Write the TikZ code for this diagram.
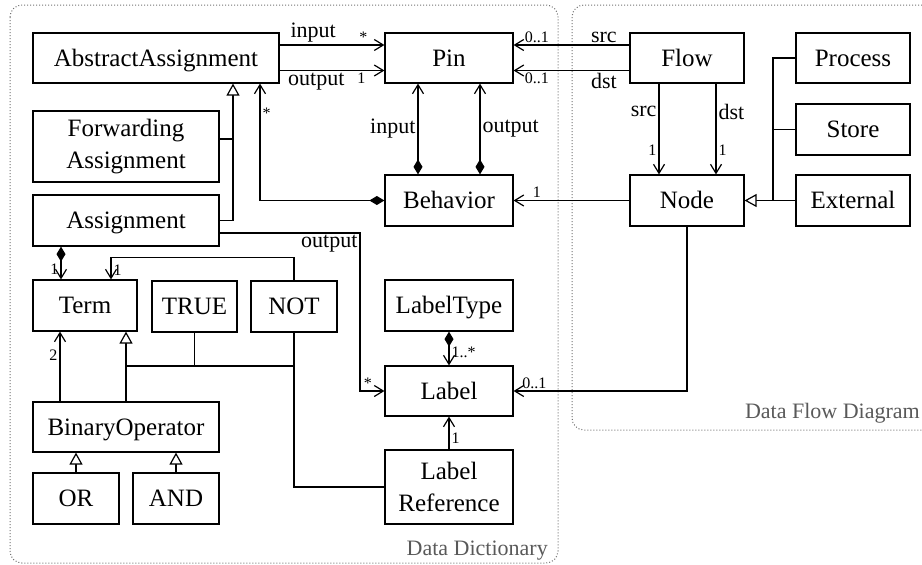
\documentclass[tikz,border=0pt]{standalone}
\usepackage{fontspec}
\setmainfont{Liberation Serif}
\usetikzlibrary{arrows.meta}
\begin{document}
\begin{tikzpicture}[x=1pt,y=-1pt,
  cls/.style={draw, line width=1.2pt, fill=white, inner sep=0pt, align=center, font=\fontsize{25}{31.7}\selectfont},
  one/.style={cls, text height=18pt, text depth=2pt},
  ln/.style={line width=1.2pt},
  assoc/.style={ln, -{Straight Barb[length=9pt,width=11pt]}},
  comp/.style={ln, {Diamond[length=15pt,width=9pt]}-{Straight Barb[length=9pt,width=11pt]}},
  gen/.style={ln, -{Triangle[open,fill=white,length=12pt,width=13pt]}},
  role/.style={font=\fontsize{22}{24}\selectfont, inner sep=2pt},
  mult/.style={font=\fontsize{16}{17}\selectfont, inner sep=2pt},
  frame/.style={draw=black!55, dotted, line width=1pt, rounded corners=12pt},
  framelbl/.style={font=\fontsize{22}{24}\selectfont, text=black!65, inner sep=0pt}
]
\useasboundingbox (0,0) rectangle (922,565);
\draw[frame] (10,5) rectangle (558,563);
\draw[frame] (572,5) rectangle (945,430);
\node[framelbl, anchor=base east] (ddl) at (548,555) {Data Dictionary};
\node[framelbl, anchor=base east] (dfdl) at (920,418) {Data Flow Diagram};

% classes
\node[one, minimum width=246pt, minimum height=50pt] (AA) at (156,58) {AbstractAssignment};
\node[one, minimum width=128pt, minimum height=50pt] (Pin) at (449,58) {Pin};
\node[one, minimum width=114pt, minimum height=50pt] (Flow) at (687,58) {Flow};
\node[one, minimum width=114pt, minimum height=50pt] (Process) at (853,58) {Process};
\node[one, minimum width=114pt, minimum height=51pt] (Store) at (853,129.5) {Store};
\node[one, minimum width=114pt, minimum height=51pt] (External) at (853,200.5) {External};
\node[one, minimum width=114pt, minimum height=51pt] (Node) at (687,200.5) {Node};
\node[one, minimum width=128pt, minimum height=51pt] (Behavior) at (449,200.5) {Behavior};
\node[cls, minimum width=186pt, minimum height=71pt] (FA) at (126,146.5) {Forwarding\\Assignment};
\node[one, minimum width=186pt, minimum height=51pt] (Asg) at (126,220.5) {Assignment};
\node[one, minimum width=104pt, minimum height=51pt] (Term) at (85,305.5) {Term};
\node[one, minimum width=85pt, minimum height=51pt] (TRUE) at (194.5,306.5) {TRUE};
\node[one, minimum width=86pt, minimum height=51pt] (NOT) at (294,306.5) {NOT};
\node[one, minimum width=128pt, minimum height=51pt] (LabelType) at (449,305.5) {LabelType};
\node[one, minimum width=128pt, minimum height=50pt] (Label) at (449,391) {Label};
\node[cls, minimum width=128pt, minimum height=74pt] (LabelRef) at (449,487) {Label\\Reference};
\node[one, minimum width=186pt, minimum height=50pt] (BO) at (126,427) {BinaryOperator};
\node[one, minimum width=86pt, minimum height=51pt] (OR) at (76,498.5) {OR};
\node[one, minimum width=86pt, minimum height=51pt] (AND) at (176,498.5) {AND};

% associations
\draw[assoc] ([yshift=13pt]AA.east) -- node[role,pos=0.32,above]{input} node[mult,pos=0.8,above]{*} ([yshift=13pt]Pin.west);
\draw[assoc] ([yshift=-12.5pt]AA.east) -- node[role,pos=0.35,below]{output} node[mult,pos=0.78,below]{1} ([yshift=-12.5pt]Pin.west);
\draw[assoc] ([yshift=13pt]Flow.west) -- node[role,pos=0.22,above]{src} node[mult,pos=0.8,above]{0..1} ([yshift=13pt]Pin.east);
\draw[assoc] ([yshift=-12.5pt]Flow.west) -- node[role,pos=0.22,below]{dst} node[mult,pos=0.8,below]{0..1} ([yshift=-12.5pt]Pin.east);

\draw[comp] ([xshift=-31pt]Behavior.north) -- node[role,left]{input} ([xshift=-31pt]Pin.south);
\draw[comp] ([xshift=31pt]Behavior.north) -- node[role,right]{output} ([xshift=31pt]Pin.south);
\draw[comp] (Behavior.west) -| node[mult,pos=0.875,right]{*} ([xshift=104pt]AA.south);
\draw[assoc] (Node.west) -- node[mult,pos=0.8,above]{1} (Behavior.east);
\draw[assoc] ([xshift=-28pt]Flow.south) -- node[role,pos=0.31,left]{src} node[mult,pos=0.73,left]{1} ([xshift=-28pt]Node.north);
\draw[assoc] ([xshift=29pt]Flow.south) -- node[role,pos=0.31,right]{dst} node[mult,pos=0.73,right]{1} ([xshift=29pt]Node.north);

% DFD generalization
\coordinate (jn) at (773,200.5);
\draw[ln] (Process.west) -| (jn);
\draw[ln] (Store.west) -- (Store.west -| jn);
\draw[gen] (External.west) -- (Node.east);

% AbstractAssignment generalization
\coordinate (ja) at (233,220.5);
\draw[gen] (Asg.east) -| ([xshift=77pt]AA.south);
\draw[ln] ([yshift=7.5pt]FA.east) -- ([yshift=7.5pt]FA.east -| ja);

% Assignment output -> Label
\coordinate (ao) at (360,233);
\draw[assoc] ([yshift=-12.5pt]Asg.east) -- (ao) node[role,below left]{output} |- node[mult,pos=0.66,above]{*} (Label.west);

% Assignment -> Term
\draw[comp] ([xshift=-65pt]Asg.south) -- node[mult,pos=0.7,left]{1} ([xshift=-24pt]Term.north);
% NOT -> Term
\draw[assoc] (NOT.north) -- ++(0,-23) -| node[mult,pos=0.78,right]{1} ([xshift=26pt]Term.north);
% BinaryOperator -> Term
\draw[assoc] ([xshift=-66pt]BO.north) -- node[mult,pos=0.66,left]{2} ([xshift=-25pt]Term.south);

% Term generalization
\coordinate (jt) at (126,366);
\draw[gen] (BO.north) -- ([xshift=41pt]Term.south);
\draw[ln] (TRUE.south) -- (TRUE.south |- jt);
\draw[ln] (jt) -- (jt -| NOT.south);
\draw[ln] (LabelRef.west) -| (NOT.south);

% BinaryOperator generalization
\draw[gen] (OR.north) -- (OR.north |- BO.south);
\draw[gen] (AND.north) -- (AND.north |- BO.south);

% Label
\draw[comp] (LabelType.south) -- node[mult,pos=0.6,right]{1..*} (Label.north);
\draw[assoc] (LabelRef.north) -- node[mult,pos=0.35,right]{1} (Label.south);
\draw[assoc] (Node.south) |- node[mult,pos=0.94,above]{0..1} (Label.east);
\end{tikzpicture}
\end{document}
